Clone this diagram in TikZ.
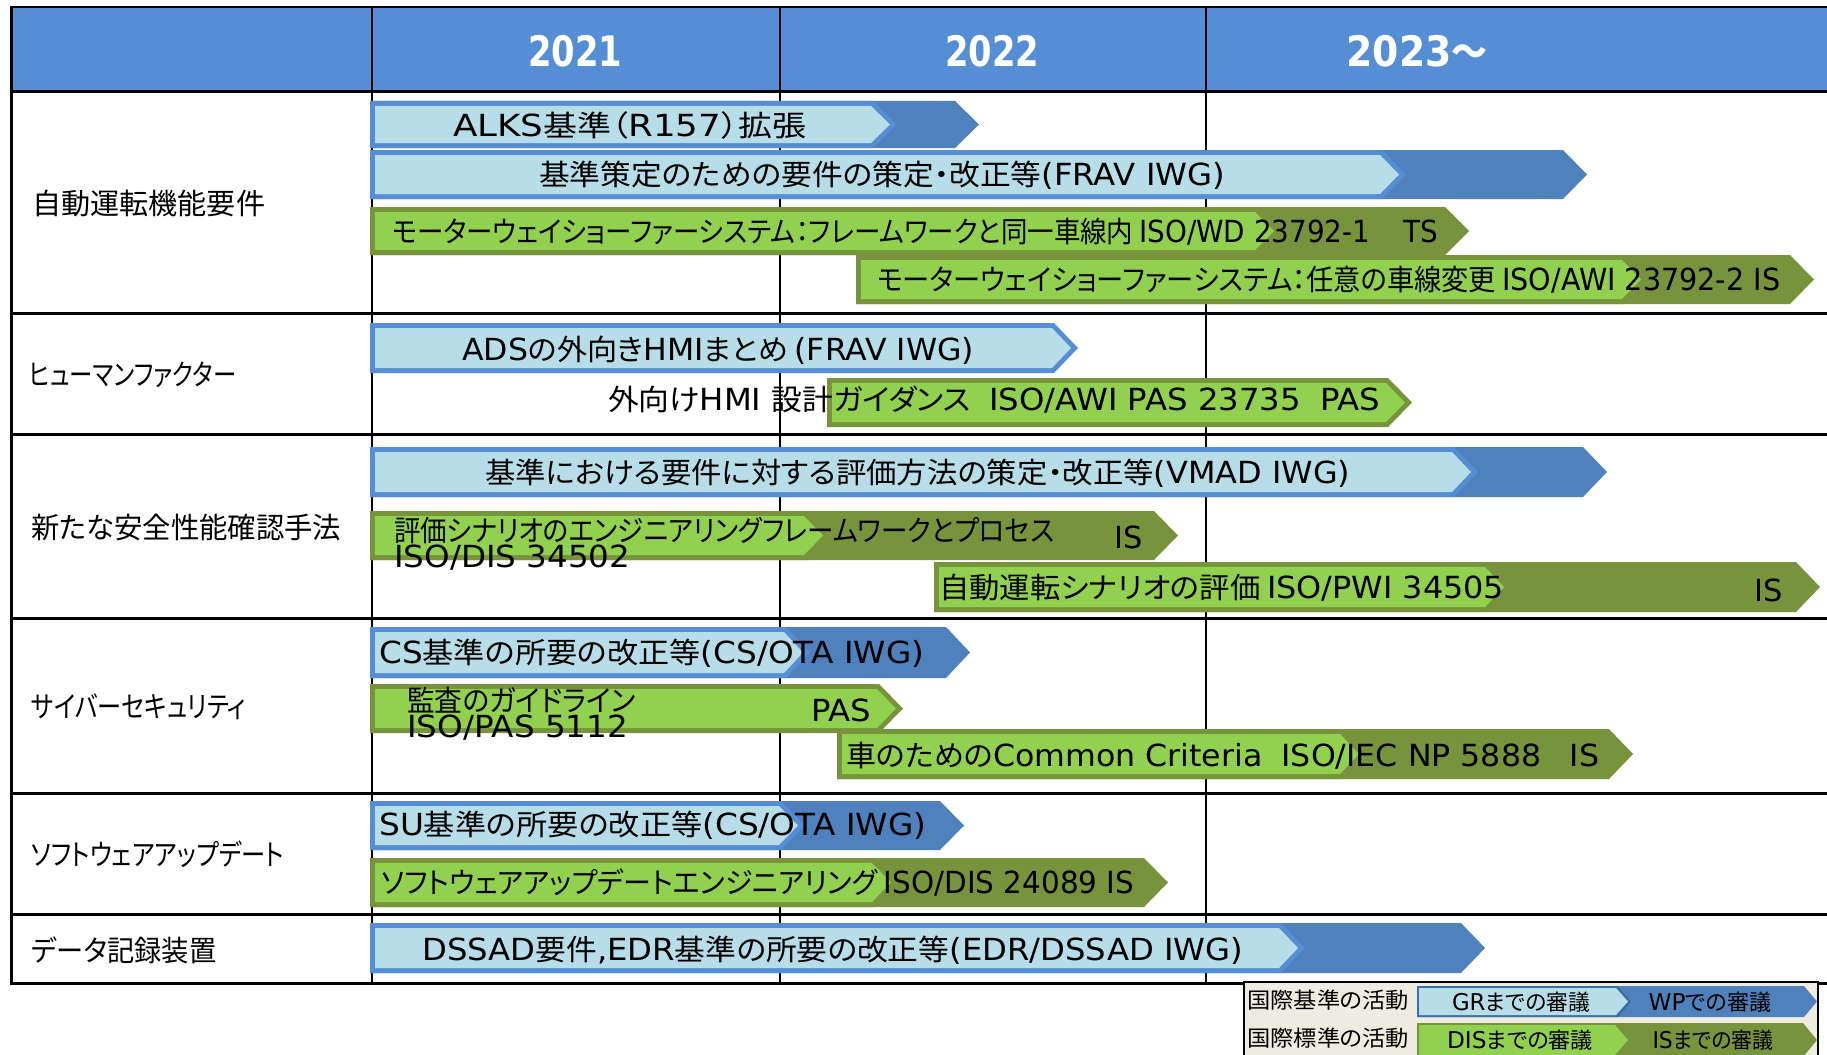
\documentclass[tikz,border=0pt]{standalone}
\usepackage{graphicx}
\usepackage{fontspec}
\setmainfont{DejaVu Sans}[Scale=1.05]
\newfontfamily\latfont{DejaVu Sans}[Scale=1.05]
\newfontfamily\jpfont{Noto Sans CJK JP}[RawFeature={+palt}]
\XeTeXinterchartokenstate=1
\newXeTeXintercharclass\jpclass
\newcount\jpc
\def\setjpclass#1#2{\jpc=#1\relax\loop\XeTeXcharclass\jpc=\jpclass\ifnum\jpc<#2\advance\jpc by 1\repeat}
\setjpclass{"3000}{"30FF}
\setjpclass{"4E00}{"9FFF}
\setjpclass{"FF00}{"FFEF}
\XeTeXinterchartoks 0 \jpclass = {\jpfont}
\XeTeXinterchartoks 4095 \jpclass = {\jpfont}
\XeTeXinterchartoks \jpclass 0 = {\latfont}
\XeTeXinterchartoks 4095 0 = {\latfont}
\newsavebox\fitbox
\newcommand{\fitw}[2]{\sbox\fitbox{#2}\resizebox{#1pt}{\ht\fitbox}{\usebox\fitbox}}
\definecolor{hdr}{HTML}{558ED5}
\definecolor{lblue}{HTML}{B7DEE8}
\definecolor{bbord}{HTML}{558ED5}
\definecolor{dblue}{HTML}{4F81BD}
\definecolor{lgreen}{HTML}{92D050}
\definecolor{olive}{HTML}{77933C}
\definecolor{legbg}{HTML}{EEECE1}
\definecolor{legbord}{HTML}{3A6EA5}
\newcommand{\plate}[6]{\fill[#1] (#2,#3) -- ({#5-#6},#3) -- (#5,{(#3+#4)/2}) -- ({#5-#6},#4) -- (#2,#4) -- cycle;}
% border, light, dark, x0, y0, y1, xlight, xdark
\newcommand{\twophase}[8]{\plate{#3}{#4}{#5}{#6}{#8}{24}\plate{#1}{#4}{#5}{#6}{#7}{24}\plate{#2}{#4+5}{#5+5}{#6-5}{#7-7}{19}}
% border, light, x0, y0, y1, xtip
\newcommand{\onephase}[6]{\plate{#1}{#3}{#4}{#5}{#6}{24}\plate{#2}{#3+5}{#4+5}{#5-5}{#6-7}{19}}
\begin{document}
\begin{tikzpicture}[x=1pt,y=-1pt,
  bartext/.style={inner sep=0pt,anchor=west,font=\fontsize{29}{31}\selectfont},
  rowlabel/.style={inner sep=0pt,anchor=west,font=\fontsize{29}{31}\selectfont},
  yeartext/.style={inner sep=0pt,text=white,font=\fontsize{40}{42}\selectfont\bfseries},
  legtext/.style={inner sep=0pt,font=\fontsize{22}{24}\selectfont},
  thick line/.style={line width=3pt},
  thin line/.style={line width=2pt}]
\useasboundingbox (0,0) rectangle (1827,1054);
\fill[white] (0,0) rectangle (1827,1054);
% header
\fill[hdr] (11,7) rectangle (1827,92);
% grid
\draw[thin line] (11,7) -- (1827,7);
\foreach \yy in {92,313,434,618,793,914,983} {\draw[thick line] (11,\yy) -- (1827,\yy);}
\draw[thick line] (11,6) -- (11,984.5);
\foreach \xx in {372,780,1206} {\draw[thin line] (\xx,7) -- (\xx,983);}
\node[yeartext] (y1) at (575,51) {\fitw{94}{2021}};
\node[yeartext] (y2) at (992,51) {\fitw{94}{2022}};
\node[yeartext] (y3) at (1417,51) {\fitw{141}{2023～}};
% row labels
\node[rowlabel] (r1) at (32,204) {\fitw{233}{自動運転機能要件}};
\node[rowlabel] (r2) at (29,375) {\fitw{207}{ヒューマンファクター}};
\node[rowlabel] (r3) at (31,528) {\fitw{310}{新たな安全性能確認手法}};
\node[rowlabel] (r4) at (31,707) {\fitw{215}{サイバーセキュリティ}};
\node[rowlabel] (r5) at (31,854) {\fitw{253}{ソフトウェアアップデート}};
\node[rowlabel] (r6) at (31,950) {\fitw{185}{データ記録装置}};
% bars
\twophase{bbord}{lblue}{dblue}{370}{101}{148}{897}{979}
\twophase{bbord}{lblue}{dblue}{370}{150}{199}{1406}{1587}
\twophase{olive}{lgreen}{olive}{370}{207}{255}{1281}{1469}
\twophase{olive}{lgreen}{olive}{856}{255}{304}{1648}{1814}
\onephase{bbord}{lblue}{370}{323}{373}{1078}
\onephase{olive}{lgreen}{827}{378}{427}{1412}
\twophase{bbord}{lblue}{dblue}{370}{447}{497}{1478}{1607}
\twophase{olive}{lgreen}{olive}{370}{511}{560}{830}{1178}
\twophase{olive}{lgreen}{olive}{934}{562}{612}{1511}{1820}
\twophase{bbord}{lblue}{dblue}{370}{627}{678}{810}{970}
\onephase{olive}{lgreen}{370}{684}{733}{903}
\twophase{olive}{lgreen}{olive}{837}{729}{779}{1366}{1633}
\twophase{bbord}{lblue}{dblue}{370}{801}{850}{805}{964}
\twophase{olive}{lgreen}{olive}{370}{858}{907}{898}{1168}
\twophase{bbord}{lblue}{dblue}{370}{923}{973}{1305}{1485}
% bar texts
\node[bartext] (tA) at (453,125) {\fitw{353}{ALKS基準（R157）拡張}};
\node[bartext] (tB) at (539,175) {\fitw{686}{基準策定のための要件の策定・改正等(FRAV IWG)}};
\node[bartext] (tC) at (392,232) {\fitw{1046}{モーターウェイショーファーシステム：フレームワークと同一車線内 ISO/WD 23792-1\hspace{1.2em}TS}};
\node[bartext] (tD) at (877,280) {\fitw{903}{モーターウェイショーファーシステム：任意の車線変更 ISO/AWI 23792-2 IS}};
\node[bartext] (tE) at (462,350) {\fitw{512}{ADSの外向きHMIまとめ (FRAV IWG)}};
\node[bartext] (tF) at (608,400) {\fitw{772}{外向けHMI 設計ガイダンス\hspace{0.6em}ISO/AWI PAS 23735\hspace{0.6em}PAS}};
\node[bartext] (tG) at (485,473) {\fitw{865}{基準における要件に対する評価方法の策定・改正等(VMAD IWG)}};
\node[bartext] (tH1) at (394,530) {\fitw{660}{評価シナリオのエンジニアリングフレームワークとプロセス}};
\node[bartext] (tH2) at (394,558) {\fitw{236}{ISO/DIS 34502}};
\node[bartext,anchor=center] (tH3) at (1129,537) {IS};
\node[bartext] (tI) at (939,588) {\fitw{565}{自動運転シナリオの評価 ISO/PWI 34505}};
\node[bartext,anchor=center] (tI2) at (1769,590) {IS};
\node[bartext] (tJ) at (379,653) {\fitw{545}{CS基準の所要の改正等(CS/OTA IWG)}};
\node[bartext] (tK1) at (407,700) {\fitw{228}{監査のガイドライン}};
\node[bartext] (tK2) at (407,728) {\fitw{221}{ISO/PAS 5112}};
\node[bartext,anchor=center] (tK3) at (841,710) {\fitw{60}{PAS}};
\node[bartext] (tL) at (846,756) {\fitw{753}{車のためのCommon Criteria\hspace{0.6em}ISO/IEC NP 5888\hspace{0.9em}IS}};
\node[bartext] (tM) at (379,825) {\fitw{547}{SU基準の所要の改正等(CS/OTA IWG)}};
\node[bartext] (tN) at (381,883) {\fitw{753}{ソフトウェアアップデートエンジニアリング ISO/DIS 24089 IS}};
\node[bartext] (tO) at (422,950) {\fitw{821}{DSSAD要件,EDR基準の所要の改正等(EDR/DSSAD IWG)}};
% legend
\draw[line width=1.5pt,fill=legbg] (1244,982) rectangle (1818,1070);
\plate{dblue}{1417}{986}{1017}{1817}{13}
\plate{legbord}{1417}{986}{1017}{1631}{13}
\plate{lblue}{1419}{988}{1015}{1628}{12}
\plate{olive}{1417}{1023}{1057}{1817}{14}
\plate{olive}{1417}{1023}{1057}{1631}{14}
\plate{lgreen}{1419}{1025}{1055}{1628}{13}
\node[legtext,anchor=west] (l1) at (1247,1000) {\fitw{162}{国際基準の活動}};
\node[legtext,anchor=west] (l2) at (1247,1038) {\fitw{162}{国際標準の活動}};
\node[legtext] (l3) at (1521,1002) {\fitw{138}{GRまでの審議}};
\node[legtext] (l4) at (1710,1002) {\fitw{123}{WPでの審議}};
\node[legtext] (l5) at (1520,1040) {\fitw{146}{DISまでの審議}};
\node[legtext] (l6) at (1713,1040) {\fitw{121}{ISまでの審議}};
\end{tikzpicture}
\end{document}
